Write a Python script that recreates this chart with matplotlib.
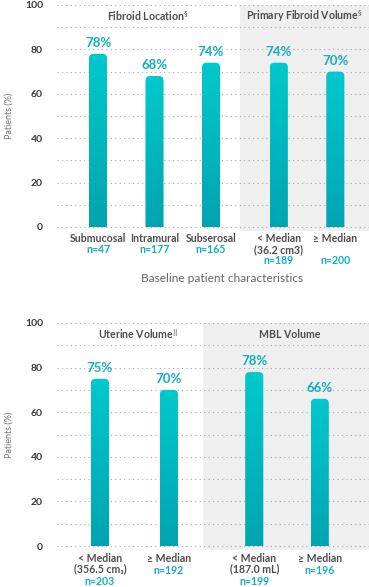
import numpy as np
import matplotlib.pyplot as plt
from matplotlib.patches import Rectangle, FancyBboxPatch
from matplotlib.colors import LinearSegmentedColormap

plt.rcParams.update({
    'font.family': ['Lato', 'DejaVu Sans'],
    'font.size': 7,
})

# top chart data
top_cats = ['Submucosal', 'Intramural', 'Subserosal', '< Median\n(36.2 cm3)', '≥ Median']
top_n = ['n=47', 'n=177', 'n=165', 'n=189', 'n=200']
top_vals = [78, 68, 74, 74, 70]
top_groups = ['Fibroid Location$^{§}$', 'Primary Fibroid Volume$^{§}$']

# bottom chart data
bot_cats = ['< Median\n(356.5 cm₃)', '≥ Median', '< Median\n(187.0 mL)', '≥ Median']
bot_n = ['n=203', 'n=192', 'n=199', 'n=196']
bot_vals = [75, 70, 78, 66]
bot_groups = ['Uterine Volume$^{||}$', 'MBL Volume']

teal = '#14aebd'
dark = '#3a3a3a'
label_col = '#4d4d4d'
gray_bg = '#efefef'

W, H = 369, 587
fig = plt.figure(figsize=(W / 100, H / 100), dpi=100)


def px_axes(x0, x1, y_top, y_bot):
    return fig.add_axes([x0 / W, 1 - y_bot / H, (x1 - x0) / W, (y_bot - y_top) / H])


grad = np.linspace(0, 1, 256).reshape(-1, 1)
bar_cmap = LinearSegmentedColormap.from_list('bar', ['#00a4b1', '#00c9cd'])


def draw_panel(ax, pos, vals, cats, ns, groups, gray_from, xlim, group_x, n_line):
    ax.set_xlim(*xlim)
    ax.set_ylim(0, 100)
    ax.add_patch(Rectangle((gray_from, -2), xlim[1] - gray_from, 102, color=gray_bg,
                           zorder=0, clip_on=False, lw=0))
    for y in range(0, 101, 10):
        ax.plot(xlim, [y, y], ls=(0, (1, 3)), color='#a8a8a8', lw=0.8, zorder=1, clip_on=False)
    bw = 0.32
    for i, (p, v) in enumerate(zip(pos, vals)):
        y0 = -1.5 if p > gray_from else 0
        # clip shape rounded at top; extends below so bottom stays flat
        patch = FancyBboxPatch((p - bw / 2, y0 - 6), bw, v - y0 + 6,
                               boxstyle='round,pad=0,rounding_size=0.08',
                               mutation_aspect=25.3,
                               lw=0, facecolor='none', zorder=2)
        ax.add_patch(patch)
        im = ax.imshow(grad, cmap=bar_cmap, aspect='auto', origin='lower',
                       extent=(p - bw / 2, p + bw / 2, y0, v), zorder=2)
        im.set_clip_path(patch)
        im.set_clip_box(None)
        ax.text(p, v + 2.2, f'{v}%', ha='center', va='bottom', color=teal,
                fontsize=9.5, fontweight='bold')
        lines = cats[i].split('\n')
        for k, ln in enumerate(lines):
            ax.text(p, -5.4 - 4.8 * k, ln, ha='center', va='center', color=label_col,
                    fontsize=7.6, fontweight='bold')
        ax.text(p, -5.4 - 4.8 * n_line[i], ns[i], ha='center', va='center', color=teal,
                fontsize=7.6, fontweight='bold')
    for gx, gt in zip(group_x, groups):
        ax.text(gx, 95, gt, ha='center', va='center', color=label_col,
                fontsize=7.6, fontweight='bold')
    ax.set_yticks(range(0, 101, 20))
    ax.set_yticklabels([str(t) for t in range(0, 101, 20)], fontweight='bold', color=dark, fontsize=7.5)
    ax.tick_params(axis='y', length=0, pad=10)
    ax.set_xticks([])
    for s in ax.spines.values():
        s.set_visible(False)
    ax.set_ylabel('Patients (%)', color='#777777', fontsize=6.5, labelpad=8)
    ax.patch.set_alpha(0)


ax1 = px_axes(57, 369, 5, 227)
draw_panel(ax1, [0, 1, 2, 3.2, 4.2], top_vals, top_cats, top_n, top_groups,
           2.51, (-0.726, 4.796), [0.88, 3.66], [1, 1, 1, 2, 2])
ax1.text(2.2, -23, 'Baseline patient characteristics', ha='center', va='center',
         color='#666666', fontsize=8.6)

ax2 = px_axes(57, 369, 323, 546)
draw_panel(ax2, [0, 1.22, 2.73, 3.89], bot_vals, bot_cats, bot_n, bot_groups,
           1.82, (-0.761, 4.761), [0.67, 3.36], [2.2, 1.15, 2.2, 1.15])

fig.savefig('out.png', dpi=100)
